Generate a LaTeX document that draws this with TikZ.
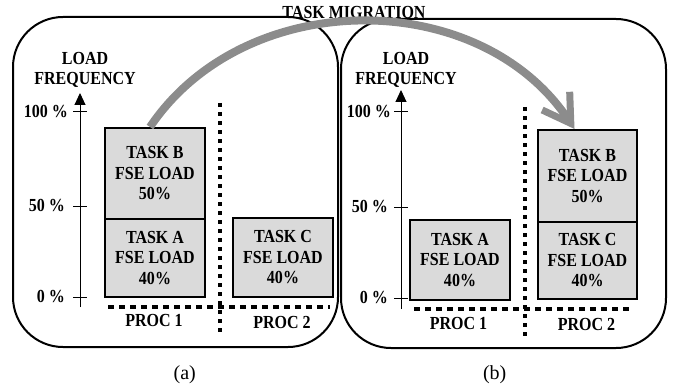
\documentclass[tikz,border=0pt]{standalone}
\usepackage{fontspec}
\setmainfont{Liberation Serif}[FakeStretch=0.87]
\newfontfamily\capfont{Liberation Serif}
\usetikzlibrary{arrows.meta}
\definecolor{boxgray}{HTML}{DADADA}
\definecolor{arrowgray}{HTML}{8C8C8C}
\begin{document}
\begin{tikzpicture}[x=1pt,y=-1pt,
  lbl/.style={font=\fontsize{18.4}{20.5}\selectfont\bfseries, inner sep=0pt, align=center},
  subcap/.style={font=\capfont\fontsize{20}{22}\selectfont, inner sep=0pt},
  taskbox/.style={draw, line width=2pt, fill=boxgray, inner sep=0pt, align=center,
     font=\fontsize{18.4}{20.5}\selectfont\bfseries},
  panel/.style={draw, line width=2pt, rounded corners=50pt},
  axis/.style={line width=1pt, -{Triangle[length=12pt,width=11pt]}},
  tickline/.style={line width=1pt},
  vsep/.style={line width=3.5pt, dash pattern=on 4pt off 5pt},
  hsep/.style={line width=3.5pt, dash pattern=on 6pt off 5pt},
  migr/.style={line width=8pt, draw=arrowgray, -{Straight Barb[length=27pt,width=33pt,line width=7pt]}}
]
\useasboundingbox (0,0) rectangle (674,385);

% panels
\draw[panel] (13,17) rectangle (338,347);
\draw[panel] (341,19) rectangle (666,348);

% ---------- panel (a) ----------
\node[lbl] (lfA) at (85,70) {LOAD\\FREQUENCY};
\coordinate (axA0) at (80,307);
\coordinate (axA1) at (80,93);
\draw[axis] (axA0) -- (axA1);
\draw[tickline] (73,112) -- (87,112);
\draw[tickline] (73,206) -- (87,206);
\draw[tickline] (73,297) -- (87,297);
\node[lbl, anchor=east] (t100A) at (68,112) {100 \%};
\node[lbl, anchor=east] (t50A) at (65,206) {50 \%};
\node[lbl, anchor=east] (t0A) at (65,297) {0 \%};

\node[taskbox, minimum width=100pt, minimum height=91pt] (bBL) at (155,173.5) {TASK B\\FSE LOAD\\50\%};
\node[taskbox, minimum width=100pt, minimum height=78pt] (bAL) at (155,258) {TASK A\\FSE LOAD\\40\%};
\node[taskbox, minimum width=100pt, minimum height=79pt] (bCL) at (283,257.5) {TASK C\\FSE LOAD\\40\%};

\draw[vsep] (220,103) -- (220,335);
\draw[hsep] (108,307) -- (330,307);
\node[lbl] (p1A) at (154,320) {PROC 1};
\node[lbl] (p2A) at (282,322) {PROC 2};
\node[subcap] (capA) at (184.7,375) {(a)};

% ---------- panel (b) ----------
\node[lbl] (lfB) at (406,70) {LOAD\\FREQUENCY};
\coordinate (axB0) at (401,309);
\coordinate (axB1) at (401,90);
\draw[axis] (axB0) -- (axB1);
\draw[tickline] (394,112) -- (408,112);
\draw[tickline] (394,207) -- (408,207);
\draw[tickline] (394,298) -- (408,298);
\node[lbl, anchor=east] (t100B) at (391,112) {100 \%};
\node[lbl, anchor=east] (t50B) at (388,207) {50 \%};
\node[lbl, anchor=east] (t0B) at (388,298) {0 \%};

\node[taskbox, minimum width=100pt, minimum height=80pt] (bAR) at (460,260) {TASK A\\FSE LOAD\\40\%};
\node[taskbox, minimum width=99pt, minimum height=92pt] (bBR) at (587.5,176) {TASK B\\FSE LOAD\\50\%};
\node[taskbox, minimum width=99pt, minimum height=77pt] (bCR) at (587.5,260.5) {TASK C\\FSE LOAD\\40\%};

\draw[vsep] (525,107) -- (525,338);
\draw[hsep] (414,309) -- (632,309);
\node[lbl] (p1B) at (458.5,323) {PROC 1};
\node[lbl] (p2B) at (586.5,324) {PROC 2};
\node[subcap] (capB) at (494.7,375) {(b)};

% ---------- migration ----------
\node[lbl] (title) at (354,12) {TASK MIGRATION};
\draw[migr] ([xshift=-5pt]bBL.north) .. controls (245,-14) and (480,-14) .. ([xshift=-13pt]bBR.north);
\end{tikzpicture}
\end{document}
